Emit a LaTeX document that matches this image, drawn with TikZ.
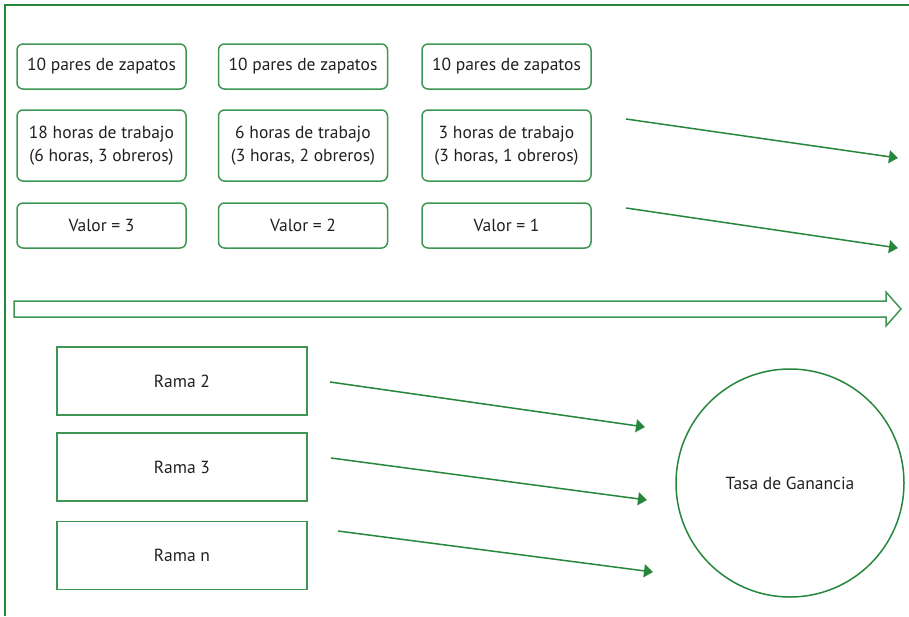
\documentclass[tikz,border=0pt]{standalone}
\usepackage{fontspec}
\setmainfont{PT Sans}
\usetikzlibrary{arrows.meta}
\definecolor{frameg}{RGB}{38,135,60}
\definecolor{boxg}{RGB}{62,150,82}
\definecolor{txt}{RGB}{35,31,32}
\begin{document}
\begin{tikzpicture}[x=1pt,y=-1pt,
  lbl/.style={text=txt,font=\fontsize{17.5}{23}\selectfont,align=center,inner sep=0pt},
  rbox/.style={lbl,draw=boxg,line width=1.5pt,rounded corners=6pt,minimum width=169pt},
  rama/.style={lbl,draw=boxg,line width=1.5pt,minimum width=250pt,minimum height=68pt},
  flow/.style={draw=frameg,line width=1.5pt,-{Triangle[length=9pt,width=13pt]}}]
\useasboundingbox (0,0) rectangle (909,616);
% frame
\draw[frameg,line width=2pt] (5,616) -- (5,5) -- (909,5);
% row 1
\node[rbox,minimum height=45pt] (z1) at (101.5,66.5) {10 pares de zapatos};
\node[rbox,minimum height=45pt] (z2) at (303,66.5) {10 pares de zapatos};
\node[rbox,minimum height=45pt] (z3) at (506.5,66.5) {10 pares de zapatos};
% row 2
\node[rbox,minimum height=71pt] (h1) at (101.5,145.5) {18 horas de trabajo\\(6 horas, 3 obreros)};
\node[rbox,minimum height=71pt] (h2) at (303,145.5) {6 horas de trabajo\\(3 horas, 2 obreros)};
\node[rbox,minimum height=71pt] (h3) at (506.5,145.5) {3 horas de trabajo\\(3 horas, 1 obreros)};
% row 3
\node[rbox,minimum height=45pt] (v1) at (101.5,225.5) {Valor = 3};
\node[rbox,minimum height=45pt] (v2) at (303,225.5) {Valor = 2};
\node[rbox,minimum height=45pt] (v3) at (506.5,225.5) {Valor = 1};
% top arrows
\coordinate (t1s) at (626,119); \coordinate (t1e) at (898,158);
\coordinate (t2s) at (626,208); \coordinate (t2e) at (898,248);
\draw[flow] (t1s) -- (t1e);
\draw[flow] (t2s) -- (t2e);
% hollow arrow
\draw[boxg,line width=1.5pt,line join=miter] (14,301) -- (886,301) -- (886,292) -- (901,309)
  -- (886,326) -- (886,317) -- (14,317) -- cycle;
% rama boxes
\node[rama] (r2) at (182,381) {Rama 2};
\node[rama] (r3) at (182,467) {Rama 3};
\node[rama] (rn) at (182,555.5) {Rama n};
% circle
\node[lbl,draw=frameg,line width=1.5pt,circle,minimum size=228pt] (tg) at (790,483) {Tasa de Ganancia};
% lower arrows
\coordinate (b1s) at (330,382); \coordinate (b1e) at (645,427);
\coordinate (b2s) at (331,458); \coordinate (b2e) at (647,500);
\coordinate (b3s) at (338,531); \coordinate (b3e) at (653,572);
\draw[flow] (b1s) -- (b1e);
\draw[flow] (b2s) -- (b2e);
\draw[flow] (b3s) -- (b3e);
\end{tikzpicture}
\end{document}
